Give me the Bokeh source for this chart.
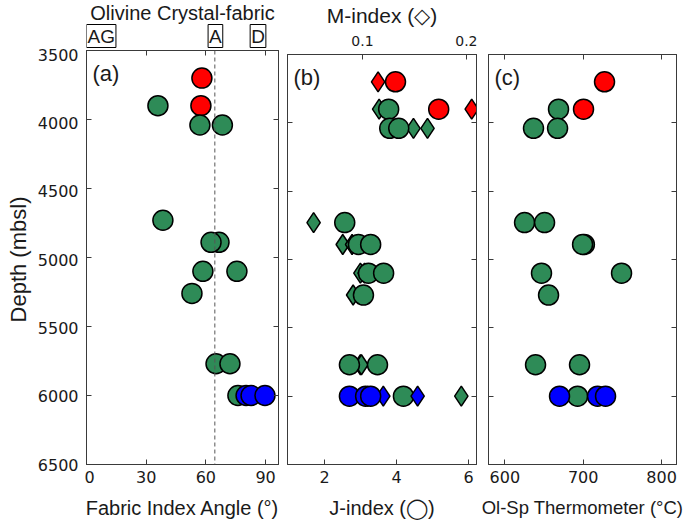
from bokeh.plotting import figure
from bokeh.models import Range1d, LinearAxis, FixedTicker, Span, Label
from bokeh.layouts import row, column
from bokeh.embed import file_html
from bokeh.resources import INLINE

# ---------------- data ----------------
depth_ticks = [3500, 4000, 4500, 5000, 5500, 6000, 6500]
angle_ticks = [0, 30, 60, 90]
j_ticks = [2, 4, 6]
m_ticks = [0.1, 0.2]
t_ticks = [600, 700, 800]

fabric_labels = ["AG", "A", "D"]
fabric_pos = [0, 64.8, 86.2]
fabric_boundary = 64.5

# panel (a): fabric index angle
a_red_angle = [58.0, 57.5]
a_red_depth = [3700, 3900]
a_green_angle = [35.9, 57.0, 68.3, 38.4, 66.6, 62.6, 58.5, 75.6, 53.0, 65.1, 72.1, 76.1]
a_green_depth = [3900, 4040, 4040, 4730, 4890, 4890, 5100, 5100, 5260, 5770, 5770, 6000]
a_blue_angle = [80.2, 82.7, 89.7]
a_blue_depth = [6000, 6000, 6000]

# panel (b): J-index (circles) and M-index (diamonds)
b_red_j = [3.97, 5.17]
b_red_jdepth = [3700, 3900]
b_red_m = [0.115, 0.205]
b_red_mdepth = [3700, 3900]
b_green_j = [3.78, 3.81, 4.06, 2.56, 2.94, 3.28, 3.22, 3.64, 3.08, 2.69, 3.47, 4.19]
b_green_jdepth = [3900, 4040, 4040, 4730, 4890, 4890, 5100, 5100, 5260, 5770, 5770, 6000]
b_green_m = [0.116, 0.149, 0.1625, 0.053, 0.081, 0.090, 0.098, 0.102, 0.091, 0.098, 0.099, 0.195]
b_green_mdepth = [3900, 4040, 4040, 4730, 4890, 4890, 5100, 5100, 5260, 5770, 5770, 6000]
b_blue_j = [2.69, 3.14, 3.28]
b_blue_jdepth = [6000, 6000, 6000]
b_blue_m = [0.105, 0.120, 0.153]
b_blue_mdepth = [6000, 6000, 6000]

# panel (c): Ol-Sp thermometer
c_red_t = [727.2, 700.4]
c_red_depth = [3700, 3900]
c_green_t = [668.5, 636.6, 667.3, 625.2, 650.7, 701.5, 699.2, 646.8, 748.9, 655.8, 639.2, 695.3, 692.8]
c_green_depth = [3900, 4040, 4040, 4730, 4730, 4890, 4890, 5100, 5100, 5260, 5770, 5770, 6000]
c_blue_t = [669.8, 718.3, 728.5]
c_blue_depth = [6000, 6000, 6000]

# ---------------- style ----------------
GREEN = "#2E8B57"
RED = "#FF0000"
BLUE = "#0000FF"
FRAME = "#3a3a3a"
TXT = "#1a1a1a"
FONT = "Liberation Sans"
TICKFONT = "DejaVu Sans"
SIZE = 20
BORDER_TOP = 50
FRAME_H = 415
BORDER_BOTTOM = 56
FIG_H = BORDER_TOP + FRAME_H + BORDER_BOTTOM
HDR_H = 48

yr = Range1d(6500, 3500)


def style_axis(ax, ticks, show_labels, font=TICKFONT, size="16px", standoff=6):
    ax.ticker = FixedTicker(ticks=ticks)
    ax.major_tick_in = 5
    ax.major_tick_out = 0
    ax.minor_tick_line_color = None
    ax.axis_line_color = FRAME
    ax.major_tick_line_color = FRAME
    ax.axis_label_text_font = FONT
    ax.axis_label_text_font_style = "normal"
    ax.axis_label_text_color = TXT
    ax.axis_label_text_font_size = "20px"
    ax.axis_label_standoff = 11
    if show_labels:
        ax.major_label_text_font = font
        ax.major_label_text_font_size = size
        ax.major_label_text_color = TXT
        ax.major_label_standoff = standoff
    else:
        ax.major_label_overrides = {t: "" for t in ticks}
        ax.major_label_text_font_size = "1px"
        ax.major_label_standoff = 0


def make_fig(x_range, width, height, bl, br, bt):
    p = figure(width=width, height=height, x_range=x_range, y_range=yr,
               output_backend="svg", toolbar_location=None,
               min_border_left=bl, min_border_right=br,
               min_border_top=bt, min_border_bottom=BORDER_BOTTOM)
    p.xgrid.visible = False
    p.ygrid.visible = False
    p.outline_line_color = FRAME
    p.background_fill_color = "white"
    p.border_fill_color = "white"
    return p


def add_panel_label(p, txt):
    p.add_layout(Label(x=p.x_range.start, y=3500, x_offset=6, y_offset=-10,
                       text=txt, text_baseline="top", text_align="left",
                       text_font=FONT, text_font_size="22px", text_color=TXT))


def dots(p, xs, ys, color, marker="circle", **kw):
    p.scatter(xs, ys, marker=marker, size=SIZE, fill_color=color,
              line_color="black", line_width=1.5, **kw)


# ---------------- depth axis strip (left) ----------------
Y_W = 84
yfig = figure(width=Y_W, height=FIG_H, x_range=Range1d(0, 1), y_range=yr,
              output_backend="svg", toolbar_location=None,
              min_border_left=Y_W - 1, min_border_right=0,
              min_border_top=BORDER_TOP, min_border_bottom=BORDER_BOTTOM)
yfig.xaxis.visible = False
yfig.xgrid.visible = False
yfig.ygrid.visible = False
yfig.outline_line_color = None
yfig.background_fill_color = "white"
yfig.border_fill_color = "white"
style_axis(yfig.yaxis[0], depth_ticks, True, standoff=5)
yfig.yaxis[0].axis_line_color = None
yfig.yaxis[0].major_tick_line_color = None
yfig.yaxis[0].axis_label = "Depth (mbsl)"
yfig.yaxis[0].axis_label_text_font_size = "22px"
yfig.yaxis[0].axis_label_standoff = 4

# ---------------- panel (a) ----------------
A_LEFT, A_W, A_RIGHT = 2, 192, 5
xr1 = Range1d(0, 96.5)

# header strip above panel (a): title and fabric-type boxes
hdr = figure(width=A_LEFT + A_W + A_RIGHT, height=HDR_H, x_range=xr1,
             y_range=Range1d(0, 1), output_backend="svg", toolbar_location=None,
             min_border_left=A_LEFT, min_border_right=A_RIGHT,
             min_border_top=0, min_border_bottom=0)
hdr.axis.visible = False
hdr.xgrid.visible = False
hdr.ygrid.visible = False
hdr.outline_line_color = None
hdr.background_fill_color = "white"
hdr.border_fill_color = "white"
hdr.add_layout(Label(x=(xr1.start + xr1.end) / 2, y=1, y_offset=-1,
                     text="Olivine Crystal-fabric", text_align="center",
                     text_baseline="top", text_font=FONT, text_font_size="20px",
                     text_color=TXT))
for lab, pos, al in zip(fabric_labels, fabric_pos, ["left", "center", "center"]):
    hdr.add_layout(Label(x=pos, y=0, y_offset=1, text=lab, text_align=al,
                         text_baseline="bottom", text_font=FONT,
                         text_font_size="19px", text_color=TXT,
                         border_line_color="black", border_line_width=1,
                         background_fill_color="white", padding=1))

p1 = make_fig(xr1, A_LEFT + A_W + A_RIGHT, FIG_H - HDR_H, A_LEFT, A_RIGHT,
              BORDER_TOP - HDR_H)
style_axis(p1.xaxis[0], angle_ticks, True)
p1.xaxis[0].axis_label = "Fabric Index Angle (°)"
style_axis(p1.yaxis[0], depth_ticks, False)
top1 = LinearAxis()
style_axis(top1, angle_ticks, False)
p1.add_layout(top1, "above")
r1 = LinearAxis()
style_axis(r1, depth_ticks, False)
p1.add_layout(r1, "right")
p1.add_layout(Span(location=fabric_boundary, dimension="height", line_color="#555555",
                   line_dash="4 3", line_width=1))
dots(p1, a_red_angle, a_red_depth, RED)
dots(p1, a_green_angle, a_green_depth, GREEN)
dots(p1, a_blue_angle, a_blue_depth, BLUE)
add_panel_label(p1, "(a)")

# ---------------- panel (b) ----------------
p2 = make_fig(Range1d(0.97, 6.22), 4 + 189 + 1, FIG_H, 4, 1, BORDER_TOP)
p2.extra_x_ranges = {"m": Range1d(0.0279, 0.2096)}
style_axis(p2.xaxis[0], j_ticks, True)
p2.xaxis[0].axis_label = "J-index (◯)"
style_axis(p2.yaxis[0], depth_ticks, False)
top2 = LinearAxis(x_range_name="m", axis_label="M-index (◇)")
style_axis(top2, m_ticks, True, size="14px", standoff=9)
top2.axis_label_text_font_size = "21px"
top2.axis_label_standoff = 6
p2.add_layout(top2, "above")
r2 = LinearAxis()
style_axis(r2, depth_ticks, False)
p2.add_layout(r2, "right")
dots(p2, b_red_m, b_red_mdepth, RED, marker="diamond", x_range_name="m")
dots(p2, b_red_j, b_red_jdepth, RED)
dots(p2, b_green_m, b_green_mdepth, GREEN, marker="diamond", x_range_name="m")
dots(p2, b_green_j, b_green_jdepth, GREEN)
dots(p2, b_blue_m, b_blue_mdepth, BLUE, marker="diamond", x_range_name="m")
dots(p2, b_blue_j, b_blue_jdepth, BLUE)
add_panel_label(p2, "(b)")

# ---------------- panel (c) ----------------
p3 = make_fig(Range1d(579.2, 819.0), 11 + 188 + 8, FIG_H, 11, 8, BORDER_TOP)
style_axis(p3.xaxis[0], t_ticks, True)
p3.xaxis[0].axis_label = "Ol-Sp Thermometer (°C)"
p3.xaxis[0].axis_label_text_font_size = "18.5px"
style_axis(p3.yaxis[0], depth_ticks, False)
top3 = LinearAxis()
style_axis(top3, t_ticks, False)
p3.add_layout(top3, "above")
r3 = LinearAxis()
style_axis(r3, depth_ticks, False)
p3.add_layout(r3, "right")
dots(p3, c_red_t, c_red_depth, RED)
dots(p3, c_green_t, c_green_depth, GREEN)
dots(p3, c_blue_t, c_blue_depth, BLUE)
add_panel_label(p3, "(c)")

layout = row(yfig, column(hdr, p1, spacing=0), p2, p3, spacing=0)
open("out.html", "w").write(file_html(layout, INLINE))
